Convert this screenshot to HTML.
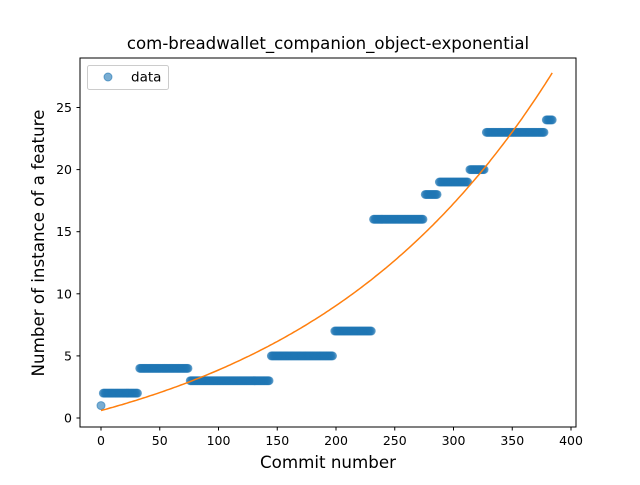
<!DOCTYPE html>
<html><head><meta charset="utf-8"><style>
body{margin:0;background:#fff}
svg text{font-family:"DejaVu Sans","Liberation Sans",sans-serif;fill:#000}
</style></head><body>
<svg id="chart" width="640" height="480" viewBox="0 0 640 480">
<rect width="640" height="480" fill="#fff"/>
<text x="328" y="49" font-size="16.6" text-anchor="middle">com-breadwallet_companion_object-exponential</text>
<g id="marks"></g>
<rect x="80" y="58" width="496" height="369" fill="none" stroke="#000" stroke-width="1"/>
<g id="xticks"></g><g id="yticks"></g>
<text x="328" y="468" font-size="16.7" text-anchor="middle">Commit number</text>
<text transform="translate(44,243) rotate(-90)" font-size="16.7" text-anchor="middle">Number of instance of a feature</text>
<g>
<rect x="87.5" y="65.5" width="81" height="24" rx="2" fill="#fff" fill-opacity="0.8" stroke="#ccc"/>
<circle cx="108" cy="77" r="4" fill="#1f77b4" fill-opacity="0.6" stroke="#1f77b4" stroke-opacity="0.6"/>
<text x="131" y="81.5" font-size="13.5">data</text>
</g>
</svg>
<script>
const segStart = [0, 2, 33, 76, 145, 199, 232, 276, 288, 314, 328, 379];
const segEnd   = [1, 32, 75, 144, 198, 231, 275, 287, 313, 327, 378, 385];
const segValue = [1, 2, 4, 3, 5, 7, 16, 18, 19, 20, 23, 24];
const fitA = 5.58, fitB = 0.00461, fitC = -4.98;
const xTicks = [0, 50, 100, 150, 200, 250, 300, 350, 400];
const yTicks = [0, 5, 10, 15, 20, 25];
const NS = "http://www.w3.org/2000/svg";
function sx(v){return 101 + v * 1.175;}
function sy(v){return 418 - v * 12.42;}
const marks = document.getElementById('marks');
for (let s = 0; s < segStart.length; s++) {
  for (let x = segStart[s]; x < segEnd[s]; x++) {
    const c = document.createElementNS(NS, 'circle');
    c.setAttribute('cx', sx(x)); c.setAttribute('cy', sy(segValue[s]));
    c.setAttribute('r', 4); c.setAttribute('fill', '#1f77b4');
    c.setAttribute('fill-opacity', '0.6'); c.setAttribute('stroke', '#1f77b4'); c.setAttribute('stroke-opacity', '0.6');
    
    
    marks.appendChild(c);
  }
}
let d = '';
for (let x = 0; x <= 385; x += 2) {
  const v = fitA * Math.exp(fitB * x) + fitC;
  d += (x ? 'L' : 'M') + sx(x).toFixed(1) + ',' + sy(v).toFixed(1);
}
const p = document.createElementNS(NS, 'path');
p.setAttribute('d', d); p.setAttribute('fill', 'none'); p.setAttribute('stroke', '#ff7f0e'); p.setAttribute('stroke-width', '1.5');


marks.appendChild(p);
const xg = document.getElementById('xticks');
xTicks.forEach(t => {
  const l = document.createElementNS(NS, 'line');
  l.setAttribute('x1', sx(t)); l.setAttribute('x2', sx(t)); l.setAttribute('y1', 427); l.setAttribute('y2', 430.5); l.setAttribute('stroke', '#000');
  
  
  xg.appendChild(l);
  const tx = document.createElementNS(NS, 'text');
  tx.setAttribute('x', sx(t)); tx.setAttribute('y', 445); tx.setAttribute('font-size', '12.5'); tx.setAttribute('text-anchor', 'middle');
  tx.textContent = t;
  
  
  xg.appendChild(tx);
});
const yg = document.getElementById('yticks');
yTicks.forEach(t => {
  const l = document.createElementNS(NS, 'line');
  l.setAttribute('x1', 76.5); l.setAttribute('x2', 80); l.setAttribute('y1', sy(t)); l.setAttribute('y2', sy(t)); l.setAttribute('stroke', '#000');
  
  
  yg.appendChild(l);
  const tx = document.createElementNS(NS, 'text');
  tx.setAttribute('x', 72); tx.setAttribute('y', sy(t) + 4.5); tx.setAttribute('font-size', '12.5'); tx.setAttribute('text-anchor', 'end');
  tx.textContent = t;
  
  
  yg.appendChild(tx);
});
</script>
</body></html>
